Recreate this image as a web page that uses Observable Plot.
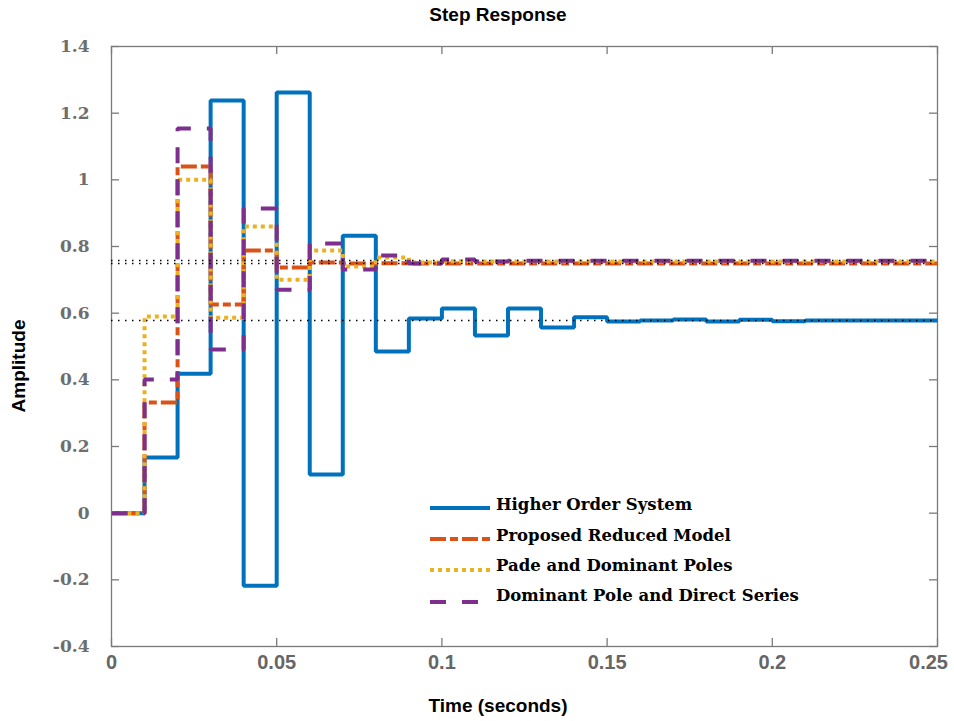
<!DOCTYPE html>
<html><head><meta charset="utf-8">
<script src="https://cdn.jsdelivr.net/npm/d3@7"></script>
<script src="https://cdn.jsdelivr.net/npm/@observablehq/plot@0.6"></script>
<style>body{margin:0;background:#fff}</style>
</head><body><div id="chart"></div>
<script>
const time = [0,0.01,0.02,0.03,0.04,0.05,0.06,0.07,0.08,0.09,0.10,0.11,0.12,0.13,0.14,0.15,0.16,0.17,0.18,0.19,0.20,0.21,0.22,0.23,0.24,0.25];
const higherOrder = [0,0.167,0.418,1.238,-0.218,1.262,0.116,0.832,0.485,0.584,0.614,0.533,0.614,0.557,0.588,0.575,0.578,0.581,0.575,0.580,0.576,0.578,0.578,0.578,0.578,0.578];
const proposed = [0,0.332,1.040,0.626,0.788,0.737,0.752,0.749,0.750,0.749,0.749,0.749,0.749,0.749,0.749,0.749,0.749,0.749,0.749,0.749,0.749,0.749,0.749,0.749,0.749,0.749];
const pade = [0,0.590,1.000,0.586,0.860,0.700,0.788,0.740,0.767,0.752,0.756,0.755,0.755,0.755,0.755,0.755,0.755,0.755,0.755,0.755,0.755,0.755,0.755,0.755,0.755,0.755];
const dominant = [0,0.401,1.154,0.491,0.914,0.670,0.809,0.731,0.773,0.749,0.761,0.755,0.757,0.757,0.757,0.757,0.757,0.757,0.757,0.757,0.757,0.757,0.757,0.757,0.757,0.757];
const steadyState = [0.578, 0.749, 0.758];
const xTicks = [0,0.05,0.1,0.15,0.2,0.25];
const xTickLabels = ["0","0.05","0.1","0.15","0.2","0.25"];
const yTicks = [-0.4,-0.2,0,0.2,0.4,0.6,0.8,1,1.2,1.4];
const yTickLabels = ["-0.4","-0.2","0","0.2","0.4","0.6","0.8","1","1.2","1.4"];
const seriesNames = ["Higher Order System","Proposed Reduced Model","Pade and Dominant Poles","Dominant Pole and Direct Series"];
const seriesColors = ["#0072BD","#D95319","#EDB120","#7E2F8E"];
const seriesDash = [null,"16,4,8,4","4,4","16,16"];

const W = 954, H = 721;
const mL = 111, mR = 17, mT = 46, mB = 75;
const fw = W - mL - mR, fh = H - mT - mB;
const allSeries = [higherOrder, proposed, pade, dominant];
const axisGray = "#7a7a7a";
const sansFont = "'Liberation Sans',Arial,sans-serif";

const lineMarks = allSeries.map((vals, k) => {
  const rows = time.map((t, i) => ({t, v: vals[i], s: seriesNames[k]}));
  return Plot.line(rows, {x: "t", y: "v", curve: "step-after", stroke: seriesColors[k],
    strokeWidth: 4, strokeDasharray: seriesDash[k], strokeLinecap: "butt", strokeLinejoin: "miter"});
});

const chart = Plot.plot({
  width: W, height: H,
  marginLeft: mL, marginRight: mR, marginTop: mT, marginBottom: mB,
  style: {background: "#fff", overflow: "visible"},
  x: {domain: [0, 0.25]},
  y: {domain: [-0.4, 1.4]},
  marks: [
    Plot.frame({stroke: axisGray, strokeWidth: 1.3}),
    Plot.tickY(yTicks, {y: d => d, insetRight: fw - 8, stroke: axisGray, strokeWidth: 1.3}),
    Plot.tickY(yTicks, {y: d => d, insetLeft: fw - 8, stroke: axisGray, strokeWidth: 1.3}),
    Plot.tickX(xTicks, {x: d => d, insetTop: fh - 8, stroke: axisGray, strokeWidth: 1.3}),
    Plot.tickX(xTicks, {x: d => d, insetBottom: fh - 8, stroke: axisGray, strokeWidth: 1.3}),
    Plot.axisX(xTicks, {tickSize: 0, tickPadding: 8, label: null,
      tickFormat: d => xTickLabels[xTicks.indexOf(d)],
      fontFamily: sansFont, fontWeight: "bold",
      fontSize: 20, fill: "#666"}),
    Plot.axisY(yTicks, {tickSize: 0, tickPadding: 22, label: null,
      tickFormat: d => yTickLabels[yTicks.indexOf(d)],
      fontFamily: "'DejaVu Serif',serif", fontWeight: "bold",
      fontSize: 17, fill: "#6e6e6e"}),
    ...lineMarks,
    Plot.ruleY(steadyState, {stroke: "#000", strokeWidth: 1.3, strokeDasharray: "1.5,5.5"})
  ]
});

const svg = d3.select(chart);
// keep the last x tick label inside the figure, as the reference does
const xLabs = svg.selectAll('g[aria-label="x-axis tick label"] text').nodes();
if (xLabs.length) d3.select(xLabs[xLabs.length - 1]).attr("dx", -9);

function addText(x, y, txt, opts = {}) {
  return svg.append("text").attr("x", x).attr("y", y)
    .attr("text-anchor", opts.anchor || "middle")
    .attr("dominant-baseline", "middle")
    .style("font-family", opts.font || sansFont)
    .style("font-weight", "bold").style("font-size", (opts.size || 19) + "px")
    .attr("fill", "#000").text(txt);
}
addText(498, 16, "Step Response");
addText(498, 707, "Time (seconds)");
svg.append("text").attr("transform", "translate(20,366) rotate(-90)").attr("text-anchor", "middle")
  .attr("dominant-baseline", "middle")
  .style("font-family", sansFont)
  .style("font-weight", "bold").style("font-size", "19px").attr("fill", "#000")
  .text("Amplitude");

const legY = [508, 539, 570, 602];
const legTextY = [505, 536, 566, 596];
const leg = svg.append("g");
seriesNames.forEach((name, k) => {
  leg.append("line").attr("x1", 430).attr("x2", 490).attr("y1", legY[k]).attr("y2", legY[k])
    .attr("stroke", seriesColors[k]).attr("stroke-width", 4)
    .attr("stroke-dasharray", seriesDash[k]).attr("stroke-linecap", "butt");
  leg.append("text").attr("x", 496).attr("y", legTextY[k]).attr("dominant-baseline", "middle")
    .attr("text-anchor", "start")
    .style("font-family", "'DejaVu Serif',serif").style("font-weight", "bold")
    .style("font-size", "16.5px").attr("fill", "#000").text(name);
});

document.getElementById("chart").appendChild(chart);
</script>
</body></html>
